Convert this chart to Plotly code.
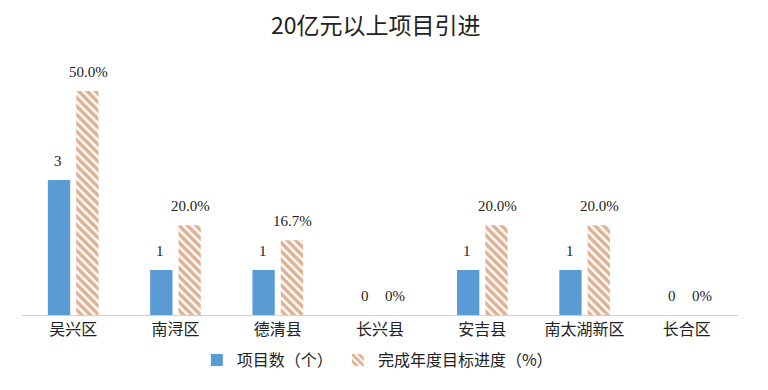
import plotly.graph_objects as go

categories = ["吴兴区", "南浔区", "德清县", "长兴县", "安吉县", "南太湖新区", "长合区"]
project_counts = [3, 1, 1, 0, 1, 1, 0]
progress_pct = [50.0, 20.0, 16.7, 0.0, 20.0, 20.0, 0.0]
count_labels = ["3", "1", "1", "0", "1", "1", "0"]
pct_labels = ["50.0%", "20.0%", "16.7%", "0%", "20.0%", "20.0%", "0%"]

BLUE = "#5B9BD5"
ORANGE = "#C0652A"
SERIF = "Liberation Serif, Noto Sans CJK SC, serif"
CJK = "Noto Sans CJK SC, sans-serif"

fig = go.Figure()
fig.add_trace(go.Bar(
    x=categories, y=project_counts, name="项目数（个）",
    marker=dict(color=BLUE, line=dict(width=0)),
    width=0.218, offset=-0.247, yaxis="y",
))
fig.add_trace(go.Bar(
    x=categories, y=progress_pct, name="完成年度目标进度（%）",
    marker=dict(color="white", line=dict(width=0),
                pattern=dict(shape="\\", fgcolor=ORANGE, bgcolor="white",
                             size=6, solidity=0.6, fillmode="overlay")),
    width=0.218, offset=0.03, yaxis="y2",
))

annotations = []
for c, v, t in zip(categories, project_counts, count_labels):
    annotations.append(dict(x=c, y=v, xref="x", yref="y", text=t, showarrow=False,
                            xanchor="center", yanchor="bottom", yshift=9, xshift=-15,
                            font=dict(family=SERIF, size=15, color="#222")))
for c, v, t in zip(categories, progress_pct, pct_labels):
    annotations.append(dict(x=c, y=v, xref="x", yref="y2", text=t, showarrow=False,
                            xanchor="center", yanchor="bottom", yshift=9, xshift=15,
                            font=dict(family=SERIF, size=15, color="#222")))

fig.update_layout(
    width=760, height=382,
    margin=dict(l=14, r=30, t=52, b=75, autoexpand=False),
    paper_bgcolor="white", plot_bgcolor="white",
    title=dict(text="20亿元以上项目引进", x=0.484, xref="container", xanchor="center",
               y=0.952, yref="container", yanchor="middle",
               font=dict(family=CJK, size=23, color="#222")),
    barmode="overlay",
    xaxis=dict(showline=True, linecolor="#D0D0D0", linewidth=1, ticks="",
               tickfont=dict(family=CJK, size=16, color="#222"), showgrid=False,
               automargin=False),
    yaxis=dict(range=[0, 5.67], visible=False, showgrid=False, zeroline=False),
    yaxis2=dict(range=[0, 56.9], overlaying="y", side="right", visible=False,
                showgrid=False, zeroline=False),
    legend=dict(orientation="h", x=0.486, xref="container", xanchor="center",
                y=0.0785, yref="container", yanchor="middle",
                font=dict(family=CJK, size=16, color="#222"), itemwidth=30),
    annotations=annotations,
    showlegend=True,
)

fig.write_html("out.html")
